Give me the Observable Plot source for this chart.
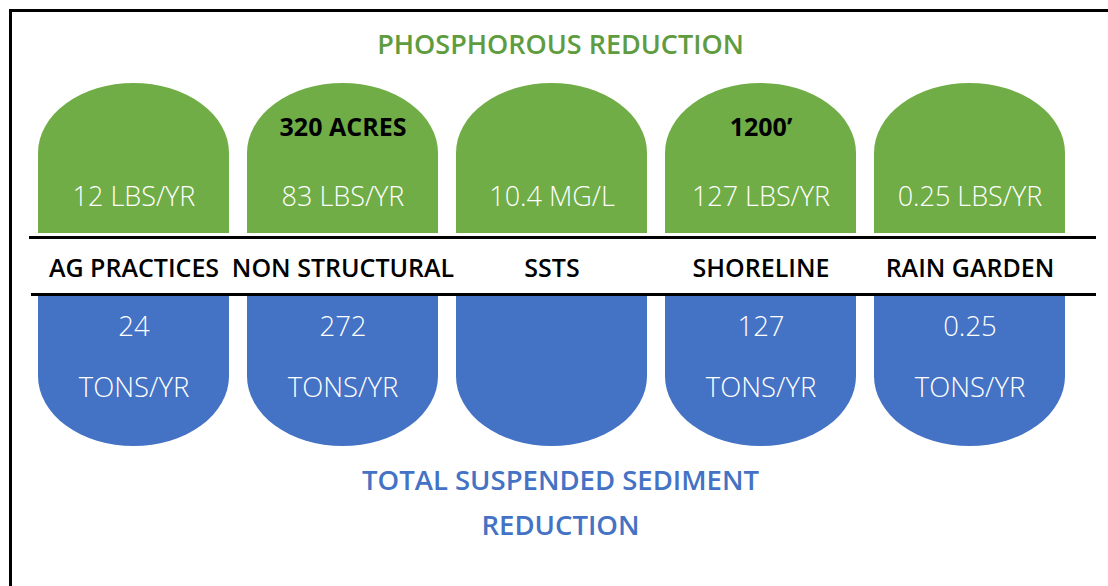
<!DOCTYPE html>
<html>
<head>
<meta charset="utf-8">
<script src="https://cdn.jsdelivr.net/npm/d3@7"></script>
<script src="https://cdn.jsdelivr.net/npm/@observablehq/plot@0.6"></script>
<style>
  html, body { margin: 0; padding: 0; background: #fff; overflow: hidden; }
  #chart svg { display: block; }
</style>
</head>
<body>
<div id="chart"></div>
<script>
// ---- data ----
const categories = ["AG PRACTICES", "NON STRUCTURAL", "SSTS", "SHORELINE", "RAIN GARDEN"];
const phosphorusValues = ["12 LBS/YR", "83 LBS/YR", "10.4 MG/L", "127 LBS/YR", "0.25 LBS/YR"];
const practiceExtents = ["", "320 ACRES", "", "1200\u2019", ""];
const sedimentValues = ["24", "272", "", "127", "0.25"];
const sedimentUnits = ["TONS/YR", "TONS/YR", "", "TONS/YR", "TONS/YR"];
const phosphorusTitle = ["PHOSPHOROUS REDUCTION"];
const sedimentTitle = ["TOTAL SUSPENDED SEDIMENT\nREDUCTION"];

const rows = categories.map((category, i) => ({
  category,
  phosphorus: phosphorusValues[i],
  extent: practiceExtents[i],
  sediment: sedimentValues[i],
  unit: sedimentUnits[i]
}));

// ---- layout / style ----
const W = 1108, H = 586;
const green = "#70ad47", blue = "#4472c4";
const greenText = "#5e9c3f";
const font = "'Open Sans', 'Noto Sans', sans-serif";
const L = {
  greenTop: 83, greenFlat: 153, greenBottom: 233,
  blueTop: 295, blueFlat: 376, blueBottom: 446,
  divider1: 237, divider2: 294,
  domeRx: 96, domeRy: 70
};

const chart = Plot.plot({
  width: W,
  height: H,
  margin: 0,
  style: { background: "#fff", fontFamily: font },
  x: { type: "band", domain: categories, range: [36, 1067], paddingInner: 0.088, paddingOuter: 0, axis: null },
  y: { domain: [0, H], range: [0, H], axis: null },
  marks: [
    // border (top and left only)
    Plot.frame({ anchor: "top", insetLeft: 10, insetTop: 10, stroke: "#000", strokeWidth: 3 }),
    Plot.frame({ anchor: "left", insetLeft: 10, insetTop: 10, stroke: "#000", strokeWidth: 3 }),

    // green domes (phosphorus)
    Plot.barY(rows, { x: "category", y1: L.greenTop, y2: L.greenBottom, fill: green, rx: L.domeRx, ry: L.domeRy }),
    Plot.barY(rows, { x: "category", y1: L.greenFlat, y2: L.greenBottom, fill: green }),

    // blue inverted domes (sediment)
    Plot.barY(rows, { x: "category", y1: L.blueTop, y2: L.blueBottom, fill: blue, rx: L.domeRx, ry: L.domeRy }),
    Plot.barY(rows, { x: "category", y1: L.blueTop, y2: L.blueFlat, fill: blue }),

    // divider lines
    Plot.ruleY([L.divider1], { insetLeft: 29, insetRight: 12, stroke: "#000", strokeWidth: 3 }),
    Plot.ruleY([L.divider2], { insetLeft: 31, insetRight: 12, stroke: "#000", strokeWidth: 3 }),

    // texts in green domes
    Plot.text(rows, { x: "category", y: 127, text: "extent", fill: "#000", fontSize: 25, fontWeight: 700 }),
    Plot.text(rows, { x: "category", y: 197, text: "phosphorus", fill: "#fff", fontSize: 27, fontWeight: 360 }),

    // category labels
    Plot.text(rows, { x: "category", y: 268, text: "category", fill: "#000", fontSize: 25, fontWeight: 560 }),

    // texts in blue domes
    Plot.text(rows, { x: "category", y: 327, text: "sediment", fill: "#fff", fontSize: 27.5, fontWeight: 360 }),
    Plot.text(rows, { x: "category", y: 388, text: "unit", fill: "#fff", fontSize: 27.5, fontWeight: 360 }),

    // titles
    Plot.text(phosphorusTitle, { y: 45, dx: 6, text: d => d, fill: greenText, fontSize: 27, fontWeight: 600 }),
    Plot.text(sedimentTitle, { y: 498, dx: 6, text: d => d, fill: blue, fontSize: 27.5, fontWeight: 600, lineHeight: 1.64 })
  ]
});
document.getElementById("chart").appendChild(chart);
</script>
</body>
</html>
